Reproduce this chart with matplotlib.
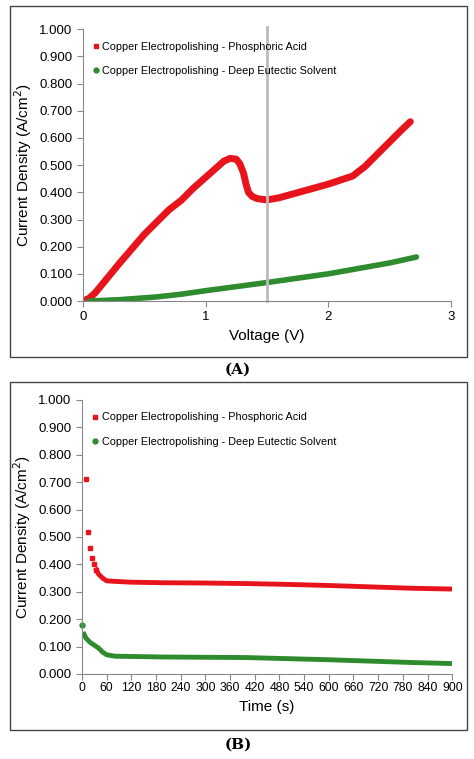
import matplotlib
matplotlib.use("Agg")
import matplotlib.pyplot as plt
from matplotlib.patches import Rectangle

va_v = [0,0.05,0.1,0.2,0.3,0.5,0.7,0.8,0.9,1.0,1.1,1.15,1.2,1.25,1.28,1.31,1.33,1.35,1.38,1.42,1.5,1.6,1.8,2.0,2.1,2.2,2.3,2.4,2.5,2.6,2.67]
va_j = [0,0.01,0.03,0.085,0.14,0.245,0.335,0.37,0.415,0.455,0.495,0.515,0.525,0.522,0.505,0.47,0.43,0.40,0.385,0.377,0.372,0.38,0.405,0.43,0.445,0.46,0.495,0.54,0.585,0.63,0.66]
vd_v = [0.05,0.3,0.6,0.8,1.0,1.5,2.0,2.5,2.72]
vd_j = [0,0.005,0.015,0.025,0.038,0.068,0.10,0.14,0.162]
ta_early_t = [10,15,20,25,30,35]
ta_early_j = [0.71,0.52,0.46,0.425,0.40,0.38]
ta_t = [35,40,50,60,80,120,200,300,400,500,600,700,800,900]
ta_j = [0.38,0.365,0.35,0.34,0.338,0.335,0.333,0.332,0.33,0.327,0.323,0.318,0.313,0.31]
td_t = [5,10,20,30,40,50,60,80,200,400,600,800,900]
td_j = [0.145,0.13,0.115,0.105,0.095,0.08,0.07,0.065,0.062,0.06,0.052,0.042,0.038]
td0_t = [0]; td0_j = [0.18]
yticks = [i/10 for i in range(11)]
red = '#e8141c'; green = '#2e8b2e'
lab1 = 'Copper Electropolishing - Phosphoric Acid'
lab2 = 'Copper Electropolishing - Deep Eutectic Solvent'

fig = plt.figure(figsize=(4.74, 7.59), dpi=100)
plt.rcParams['font.family'] = ['Liberation Sans', 'DejaVu Sans']

for (y0, y1) in [(6, 357), (382, 730)]:
    fig.add_artist(Rectangle((10/474, 1-y1/759), 457/474, (y1-y0)/759, transform=fig.transFigure,
                             fill=False, edgecolor='#444444', lw=1))

def style(ax):
    for s in ['top', 'right']:
        ax.spines[s].set_visible(False)
    for s in ['left', 'bottom']:
        ax.spines[s].set_color('#888888')
    ax.set_ylim(0, 1.0)
    ax.set_yticks(yticks)
    ax.set_yticklabels([f'{v:.3f}' for v in yticks])
    ax.tick_params(direction='out', color='#888888', labelsize=9.5, length=4)
    ax.set_ylabel('Current Density (A/cm$^2$)', fontsize=11, labelpad=4)
    h1, = ax.plot([], [], 's', color=red, ms=3.5, label=lab1)
    h2, = ax.plot([], [], 'o', color=green, ms=3.5, label=lab2)
    ax.legend(handles=[h1, h2], loc='upper left', bbox_to_anchor=(0.0, 0.99), frameon=False,
              fontsize=7.8, handlelength=0.6, handletextpad=0.3, labelspacing=1.3)

axA = fig.add_axes([0.175, 0.6034, 0.776, 0.358])
axA.plot(va_v, va_j, '-', color=red, lw=5, solid_capstyle='round', solid_joinstyle='round')
axA.plot(vd_v, vd_j, '-', color=green, lw=4, solid_capstyle='round')
axA.axvline(1.5, color='#bbbbbb', lw=2, ymin=0, ymax=1.01, clip_on=False)
axA.set_xlim(0, 3)
axA.set_xticks([0, 1, 2, 3])
axA.set_xlabel('Voltage (V)', fontsize=11)
style(axA)

axB = fig.add_axes([0.173, 0.112, 0.781, 0.361])
axB.plot(ta_early_t, ta_early_j, 's', color=red, ms=3.5)
axB.plot(ta_t, ta_j, '-', color=red, lw=3.5)
axB.plot(td0_t, td0_j, 'o', color=green, ms=3.5, clip_on=False)
axB.plot(td_t, td_j, '-', color=green, lw=3.5)
axB.set_xlim(0, 900)
axB.set_xticks(list(range(0, 901, 60)))
axB.set_xlabel('Time (s)', fontsize=11)
style(axB)
axB.tick_params(axis='x', labelsize=8.8, pad=2)

fig.text(238/474, 1-370/759, '(A)', ha='center', va='center', fontsize=11, fontweight='bold', family='DejaVu Serif')
fig.text(238/474, 1-745/759, '(B)', ha='center', va='center', fontsize=11, fontweight='bold', family='DejaVu Serif')
fig.savefig('out.png', dpi=100)
